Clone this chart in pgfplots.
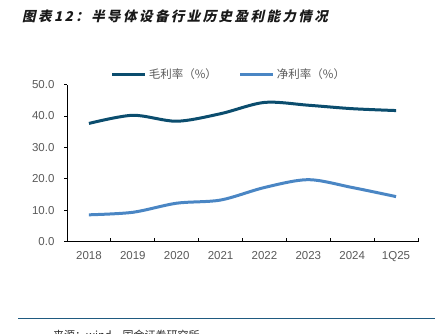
\documentclass[border=0pt]{standalone}
\usepackage{fontspec}
\setmainfont{Liberation Sans}
\newfontfamily\cjk{Noto Sans CJK SC}
\newfontfamily\cjktitle{Noto Sans CJK SC}[FakeSlant=0.22,LetterSpace=18]
\usepackage{pgfplots}
\pgfplotsset{compat=1.18}
\definecolor{gross}{HTML}{0B4D6E}
\definecolor{net}{HTML}{4A86C4}
\definecolor{ticklab}{HTML}{595959}
\definecolor{rule}{HTML}{1F5A80}
\begin{document}
\begin{tikzpicture}[x=1pt,y=1pt]
\useasboundingbox (0,0) rectangle (435,333);
\node[anchor=base west, inner sep=0pt, text=black!90] at (22,312) {\cjktitle\bfseries\fontsize{13.5}{15}\selectfont 图表12：半导体设备行业历史盈利能力情况};
\draw[rule, line width=1pt] (18,15) -- (435,15);
\node[anchor=base west, inner sep=0pt, text=black!85] at (53,-6) {\cjk\fontsize{11}{13}\selectfont 来源：wind，国金证券研究所};
\begin{axis}[
  at={(67pt,91.5pt)}, anchor=south west,
  scale only axis, width=351pt, height=157pt,
  xmin=-0.5, xmax=7.5, ymin=0, ymax=50,
  axis lines=left,
  axis line style={-, black, line width=0.8pt},
  xtick={0,...,7},
  xticklabels={2018,2019,2020,2021,2022,2023,2024,1Q25},
  major x tick style={draw=none},
  minor xtick={0.5,1.5,...,7.5},
  xtick align=inside,
  minor tick length=4pt,
  ytick={0,10,...,50},
  ytick align=outside,
  major tick length=3pt,
  tick style={black, line width=0.8pt},
  yticklabel style={xshift=-6pt, /pgf/number format/fixed, /pgf/number format/fixed zerofill, /pgf/number format/precision=1},
  /pgf/number format/assume math mode=true,
  ticklabel style={font=\fontsize{11.5}{13}\selectfont, text=ticklab},
  xticklabel style={yshift=-6pt},
  legend style={at={(0.4615,1.062)}, anchor=center, draw=none, fill=none,
    legend columns=2, font=\cjk\fontsize{11.5}{13}\selectfont, text=ticklab,
    /tikz/every even column/.append style={column sep=20pt}},
  legend image code/.code={\draw[#1, line width=3pt] (0pt,0pt) -- (33pt,0pt);},
  clip=false,
]
\addplot[gross, line width=3pt, smooth] coordinates {
 (0,37.6) (1,40.2) (2,38.3) (3,40.7) (4,44.3) (5,43.4) (6,42.3) (7,41.7)};
\addlegendentry{毛利率（\%）}
\addplot[net, line width=3pt, smooth] coordinates {
 (0,8.5) (1,9.3) (2,12.2) (3,13.2) (4,17.2) (5,19.7) (6,17.2) (7,14.3)};
\addlegendentry{净利率（\%）}
\end{axis}
\end{tikzpicture}
\end{document}
